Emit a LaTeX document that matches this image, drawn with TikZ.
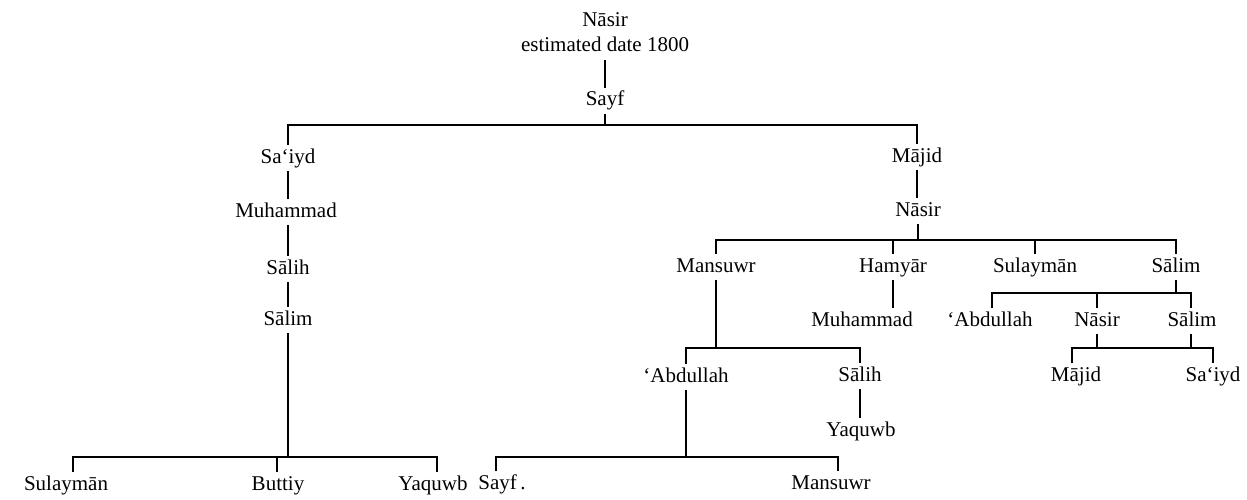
\documentclass[tikz,border=0pt]{standalone}
\usepackage{fontspec}
\setmainfont{Liberation Serif}
\begin{document}
\begin{tikzpicture}[x=1pt,y=-1pt,
  nm/.style={anchor=base,inner sep=0pt,outer sep=4pt,text height=14pt,text depth=4pt,font=\fontsize{21}{24}\selectfont},
  ln/.style={line width=1.3pt,black}]
\useasboundingbox (0,0) rectangle (1247,500);
% ---- top
\node[nm] (n0) at (605,27) {Nāsir};
\node[nm] (d0) at (605,52) {estimated date 1800};
\node[nm] (s0) at (605,106) {Sayf};
% ---- level 1
\node[nm] (a1) at (288,163) {Sa‘iyd};
\node[nm] (m1) at (917,162) {Mājid};
% ---- left chain
\node[nm] (a2) at (286,217) {Muhammad};
\node[nm] (a3) at (288,274) {Sālih};
\node[nm] (a4) at (288,325) {Sālim};
\node[nm] (c1) at (66,490) {Sulaymān};
\node[nm] (c2) at (278,490) {Buttiy};
\node[nm] (c3) at (433,490) {Yaquwb};
% ---- right side
\node[nm] (m2) at (918,216) {Nāsir};
\node[nm] (r1) at (716,272) {Mansuwr};
\node[nm] (r2) at (893,272) {Hamyār};
\node[nm] (r3) at (1035,272) {Sulaymān};
\node[nm] (r4) at (1176,272) {Sālim};
\node[nm] (r2c) at (862,326) {Muhammad};
\node[nm] (q1) at (990,326) {‘Abdullah};
\node[nm] (q2) at (1097,326) {Nāsir};
\node[nm] (q3) at (1192,326) {Sālim};
\node[nm] (t1) at (1076,381) {Mājid};
\node[nm] (t2) at (1213,381) {Sa‘iyd};
\node[nm] (p1) at (686,382) {‘Abdullah};
\node[nm] (p2) at (860,381) {Sālih};
\node[nm] (p3) at (861,436) {Yaquwb};
\node[nm] (o1) at (502,489) {Sayf\,.};
\node[nm] (o2) at (831,489) {Mansuwr};
% ---- junction coordinates
\coordinate (b1) at (605,125);
\coordinate (b2) at (288,457);
\coordinate (b2l) at (73,457);
\coordinate (b2m) at (277,457);
\coordinate (b2r) at (437,457);
\coordinate (b3) at (918,240);
\coordinate (b4) at (716,348);
\coordinate (b5) at (686,457);
\coordinate (b5l) at (496,457);
\coordinate (b5r) at (838,457);
\coordinate (b6) at (1176,293);
\coordinate (b6l) at (992,293);
\coordinate (b6r) at (1191,293);
\coordinate (b7l) at (1072,348);
\coordinate (b7r) at (1213,348);
% ---- connectors
\draw[ln] (d0.south) -- (s0.north);
\draw[ln] (s0.south) -- (b1);
\draw[ln] (a1.north) |- (b1) -| (m1.north);
\draw[ln] (a1.south) -- (a1.south |- a2.north);
\draw[ln] (a2.south -| a1.south) -- (a1.south |- a3.north);
\draw[ln] (a3.south) -- (a3.south |- a4.north);
\draw[ln] (a4.south) -- (b2);
\draw[ln] (b2l |- c1.north) -- (b2l) -- (b2r) -- (b2r |- c3.north);
\draw[ln] (b2m) -- (b2m |- c2.north);
\draw[ln] (m1.south) -- (m1.south |- m2.north);
\draw[ln] (m2.south) -- (m2.south |- b3);
\draw[ln] (r1.north) |- (b3) -| (r4.north);
\draw[ln] (r2.north |- b3) -- (r2.north);
\draw[ln] (r3.north |- b3) -- (r3.north);
\draw[ln] (r2.south) -- (r2.south |- r2c.north);
\draw[ln] (r1.south) -- (b4);
\draw[ln] (p1.north) |- (b4) -| (p2.north);
\draw[ln] (p2.south) -- (p2.south |- p3.north);
\draw[ln] (p1.south) -- (b5);
\draw[ln] (b5l |- o1.north) -- (b5l) -- (b5r) -- (b5r |- o2.north);
\draw[ln] (r4.south) -- (b6);
\draw[ln] (b6l |- q1.north) -- (b6l) -- (b6r) -- (b6r |- q3.north);
\draw[ln] (q2.north |- b6) -- (q2.north);
\draw[ln] (q2.south) -- (q2.south |- b7l);
\draw[ln] (q3.south -| b6r) -- (b6r |- b7l);
\draw[ln] (b7l |- t1.north) -- (b7l) -- (b7r) -- (b7r |- t2.north);
\end{tikzpicture}
\end{document}
